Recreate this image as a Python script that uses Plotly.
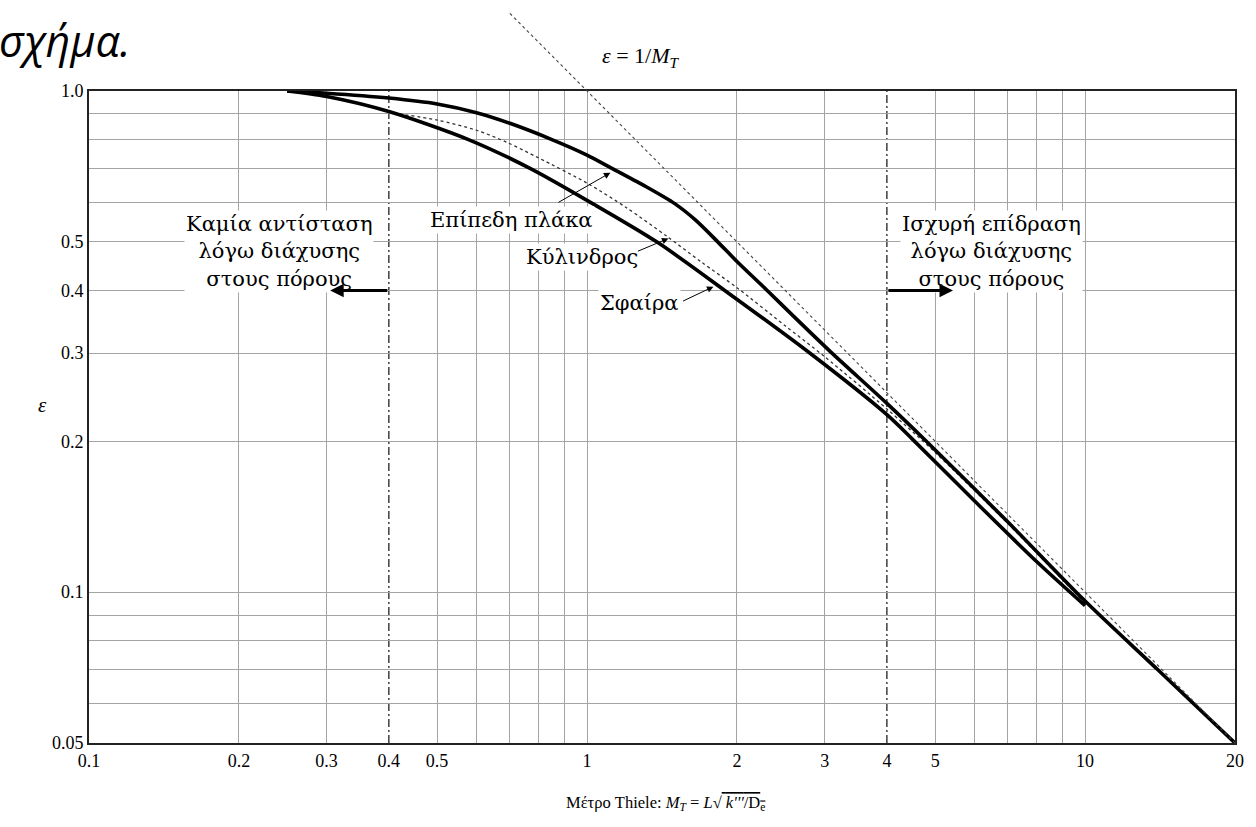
import math
import plotly.graph_objects as go

# ---------------- data ----------------
mt_plate = [0.25, 0.3, 0.4, 0.5, 0.6, 0.7, 0.85, 1.0, 1.11, 1.3, 1.5, 1.65, 1.83, 2.0, 2.3, 2.6,
            3.08, 4.0, 4.8, 7.0, 10.0, 14.0, 20.0]
eps_plate = [1.0, 0.99, 0.968, 0.942, 0.905, 0.862, 0.8, 0.745, 0.705, 0.648, 0.596, 0.553, 0.5, 0.457, 0.4, 0.355,
             0.302, 0.238, 0.2, 0.138, 0.096, 0.07, 0.05]

mt_cyl = [0.42, 0.5, 0.6, 0.69, 0.8, 1.0, 1.2, 1.45, 1.7, 2.0, 2.5, 3.0, 4.0, 5.0, 7.0, 10.0]
eps_cyl = [0.9, 0.875, 0.835, 0.79, 0.735, 0.655, 0.585, 0.512, 0.455, 0.405, 0.34, 0.295, 0.232, 0.19, 0.137, 0.095]

mt_sph = [0.25, 0.3, 0.4, 0.578, 0.77, 1.0, 1.38, 1.89, 2.8, 4.0, 4.5, 6.0, 8.0, 10.0]
eps_sph = [1.0, 0.975, 0.91, 0.8, 0.7, 0.605, 0.5, 0.4, 0.3, 0.226, 0.202, 0.152, 0.115, 0.094]

# asymptote eps = 1/M_T (end points)
mt_asym = [0.7, 20.0]
eps_asym = [1.0 / 0.7, 0.05]

x_tick_vals = [0.1, 0.2, 0.3, 0.4, 0.5, 1, 2, 3, 4, 5, 10, 20]
x_tick_text = ["0.1", "0.2", "0.3", "0.4", "0.5", "1", "2", "3", "4", "5", "10", "20"]
y_tick_vals = [0.05, 0.1, 0.2, 0.3, 0.4, 0.5, 1.0]
y_tick_text = ["0.05", "0.1", "0.2", "0.3", "0.4", "0.5", "1.0"]
x_grid = [0.2, 0.3, 0.5, 0.6, 0.7, 0.8, 0.9, 1, 2, 3, 5, 6, 7, 8, 9, 10]
y_grid = [0.06, 0.07, 0.08, 0.09, 0.1, 0.2, 0.3, 0.4, 0.5, 0.6, 0.7, 0.8, 0.9]
boundaries = [0.4, 4]

X_RANGE = [math.log10(0.1), math.log10(20)]
Y_RANGE = [math.log10(0.05), 0.0]

SERIF = "Liberation Serif, Times New Roman, serif"
LSERIF = "DejaVu Serif, serif"
GRID = "#a4a4a4"


def L(v):
    return math.log10(v)


def px_(v):  # data x -> paper
    return (L(v) - X_RANGE[0]) / (X_RANGE[1] - X_RANGE[0])


def py_(v):  # data y -> paper
    return (L(v) - Y_RANGE[0]) / (Y_RANGE[1] - Y_RANGE[0])


fig = go.Figure()

fig.add_trace(go.Scatter(x=mt_cyl, y=eps_cyl, mode="lines",
                         line=dict(color="#333333", width=1.3, dash="dot", shape="spline", smoothing=0.8),
                         hoverinfo="skip", showlegend=False))
fig.add_trace(go.Scatter(x=mt_plate, y=eps_plate, mode="lines",
                         line=dict(color="black", width=3.6, shape="spline", smoothing=0.8),
                         hoverinfo="skip", showlegend=False))
fig.add_trace(go.Scatter(x=mt_sph, y=eps_sph, mode="lines",
                         line=dict(color="black", width=3.6, shape="spline", smoothing=0.8),
                         hoverinfo="skip", showlegend=False))

shapes = []
# 1/M_T asymptote (extends above the frame)
shapes.append(dict(type="line", xref="paper", yref="paper",
                   x0=px_(mt_asym[0]), y0=py_(eps_asym[0]), x1=px_(mt_asym[1]), y1=py_(eps_asym[1]),
                   line=dict(color="#444444", width=1.1, dash="dot"), layer="above"))
for b in boundaries:
    shapes.append(dict(type="line", xref="x", yref="paper", x0=b, x1=b, y0=0, y1=1,
                       line=dict(color="#222222", width=1.3, dash="8px,3px,2px,3px"), layer="below"))

annotations = []
lbl_font = dict(family=LSERIF, size=21, color="black")
# curve labels
for txt, x, y in [("Επίπεδη πλάκα", 0.706, 0.553), ("Κύλινδρος", 0.975, 0.466), ("Σφαίρα", 1.275, 0.3775)]:
    annotations.append(dict(text=txt, x=L(x), y=L(y), xref="x", yref="y", showarrow=False,
                            xanchor="center", yanchor="middle",
                            font=lbl_font, bgcolor="white", borderpad=1))
# curve pointer arrows (head, tail)
for (hx, hy, tx, ty) in [(1.114, 0.687, 0.870, 0.597), (1.457, 0.508, 1.257, 0.4777), (1.794, 0.407, 1.548, 0.3797)]:
    annotations.append(dict(text="", x=L(hx), y=L(hy), ax=L(tx), ay=L(ty), xref="x", yref="y",
                            axref="x", ayref="y", showarrow=True, arrowhead=2, arrowsize=1.3,
                            arrowwidth=1, arrowcolor="black", standoff=0, startstandoff=0))
# region labels
for txt, x in [("Καμία αντίσταση<br>λόγω διάχυσης<br>στους πόρους", 0.241),
               ("Ισχυρή επίδραση<br>λόγω διάχυσης<br>στους πόρους", 6.5)]:
    annotations.append(dict(text=txt, x=L(x), y=L(0.479), xref="x", yref="y", showarrow=False,
                            xanchor="center", yanchor="middle",
                            font=dict(family=LSERIF, size=21, color="black"), bgcolor="white", borderpad=1,
                            align="center"))
# thick region arrows
annotations.append(dict(text="", x=L(0.305), y=L(0.4), ax=L(0.4), ay=L(0.4), xref="x", yref="y",
                        axref="x", ayref="y", showarrow=True, arrowhead=2, arrowsize=0.9, arrowwidth=3,
                        arrowcolor="black", standoff=0, startstandoff=0))
annotations.append(dict(text="", x=L(5.43), y=L(0.4), ax=L(4.0), ay=L(0.4), xref="x", yref="y",
                        axref="x", ayref="y", showarrow=True, arrowhead=2, arrowsize=0.9, arrowwidth=3,
                        arrowcolor="black", standoff=0, startstandoff=0))
# eps = 1/M_T label
annotations.append(dict(text="<i>ε</i> = 1/<i>M<sub>T</sub></i>", x=0.482, y=1.052, xref="paper", yref="paper",
                        xanchor="center", yanchor="middle", showarrow=False,
                        font=dict(family=SERIF, size=22, color="black")))
# axis titles
annotations.append(dict(text="<i>ε</i>", x=-0.041, y=0.518, xref="paper", yref="paper", showarrow=False,
                        xanchor="center", yanchor="middle",
                        font=dict(family=SERIF, size=21, color="black")))
annotations.append(dict(text="Μέτρο Thiele: <i>M<sub>T</sub></i> = <i>L</i>√<span style='text-decoration:overline'> <i>k'''</i>/D<sub>e</sub></span>",
                        x=0.503, y=-0.092, xref="paper", yref="paper", showarrow=False,
                        xanchor="center", yanchor="middle",
                        font=dict(family=SERIF, size=16.5, color="black")))
# clipped document text above the chart
annotations.append(dict(text="<i>σχήμα.</i>", x=-0.0805, y=1.0767, xref="paper", yref="paper",
                        xanchor="left", yanchor="middle", showarrow=False,
                        font=dict(family="Open Sans, Noto Sans, sans-serif", size=43, color="black")))

fig.update_layout(
    width=1256, height=827,
    margin=dict(l=89, r=18, t=91, b=84),
    paper_bgcolor="white", plot_bgcolor="white",
    shapes=shapes, annotations=annotations,
    showlegend=False,
    xaxis=dict(type="log", range=X_RANGE, tickvals=x_tick_vals, ticktext=x_tick_text,
               showgrid=False, zeroline=False, showline=True, mirror=True, linecolor="#222222", linewidth=2,
               ticks="",
               tickfont=dict(family=SERIF, size=18, color="black"),
               minor=dict(tickvals=x_grid, showgrid=True, gridcolor=GRID, gridwidth=1.3, ticks="")),
    yaxis=dict(type="log", range=Y_RANGE, tickvals=y_tick_vals, ticktext=y_tick_text,
               showgrid=False, zeroline=False, showline=True, mirror=True, linecolor="#222222", linewidth=2,
               ticks="",
               tickfont=dict(family=SERIF, size=18, color="black"),
               minor=dict(tickvals=y_grid, showgrid=True, gridcolor=GRID, gridwidth=1.3, ticks="")),
)

fig.write_html("out.html", config={"displayModeBar": False},
               post_script="document.body.style.margin='0';")
